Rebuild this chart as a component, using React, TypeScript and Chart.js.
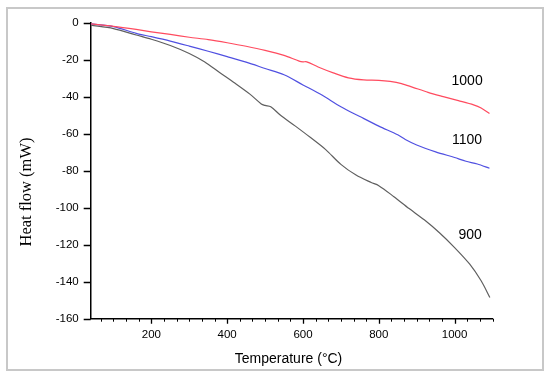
import React, { useEffect, useRef } from "react";
import { Chart, registerables } from "chart.js";

Chart.register(...registerables);

const temps1000 = [40, 100, 160, 200, 250, 300, 350, 400, 450, 500, 550, 590, 600, 610, 640, 680, 720, 760, 800, 830, 860, 890, 930, 970, 1010, 1050, 1070, 1092];
const flow1000 = [-0.5, -1.8, -3.5, -4.8, -6.2, -7.7, -9.0, -10.7, -12.6, -14.8, -17.5, -20.6, -21.0, -21.0, -23.8, -27.0, -29.7, -30.8, -31.0, -31.6, -32.8, -34.8, -37.5, -39.8, -42.0, -44.3, -46.0, -49.0];

const temps1100 = [40, 100, 160, 200, 250, 300, 350, 400, 450, 500, 550, 600, 650, 700, 750, 800, 850, 870, 900, 950, 1000, 1030, 1060, 1092];
const flow1100 = [-0.5, -2.0, -5.6, -7.4, -9.8, -12.5, -15.3, -18.2, -21.2, -24.6, -28.0, -33.5, -39.0, -45.3, -50.6, -55.8, -60.5, -63.0, -66.0, -69.7, -72.8, -74.8, -76.3, -78.6];

const temps900 = [40, 100, 160, 200, 250, 300, 340, 380, 420, 460, 490, 500, 515, 540, 580, 620, 660, 700, 740, 780, 800, 840, 880, 920, 960, 1000, 1040, 1070, 1093];
const flow900 = [-1.2, -3.0, -6.5, -8.8, -12.2, -16.5, -21.0, -26.8, -32.5, -38.5, -43.8, -44.6, -45.3, -49.8, -55.8, -62.0, -68.5, -76.5, -82.3, -86.3, -88.0, -94.0, -100.4, -106.5, -113.5, -121.5, -130.5, -139.5, -148.5];

const xMajorTicks = [200, 400, 600, 800, 1000];
const yMajorTicks = [0, -20, -40, -60, -80, -100, -120, -140, -160];

const seriesLabels = ["1000", "1100", "900"];
const labelPositions = [
  { x: 1033, y: -31.4 },
  { x: 1033, y: -63.3 },
  { x: 1041, y: -114.7 },
];

const xTitle = "Temperature (°C)";
const yTitle = "Heat flow (mW)";

const toPoints = (xs: number[], ys: number[]) => xs.map((x, i) => ({ x, y: ys[i] }));

export default function App() {
  const canvasRef = useRef<HTMLCanvasElement | null>(null);

  useEffect(() => {
    const canvas = canvasRef.current;
    if (!canvas) return;

    const decorations = {
      id: "decorations",
      afterDraw(chart: any) {
        const ctx = chart.ctx;
        const xs = chart.scales.x;
        const ys = chart.scales.y;
        const ca = chart.chartArea;
        ctx.save();
        ctx.strokeStyle = "#000";
        ctx.lineWidth = 1.3;
        ctx.beginPath();
        for (const v of yMajorTicks) {
          const py = Math.round(ys.getPixelForValue(v)) + 0.5;
          ctx.moveTo(ca.left - 7, py);
          ctx.lineTo(ca.left, py);
        }
        for (const v of xMajorTicks) {
          const px = Math.round(xs.getPixelForValue(v)) + 0.5;
          ctx.moveTo(px, ca.bottom);
          ctx.lineTo(px, ca.bottom + 5);
        }
        ctx.stroke();
        ctx.lineWidth = 1;
        ctx.beginPath();
        for (let i = 2; i <= 33; i++) {
          const v = (i * 100) / 3;
          if (i % 6 === 0) continue;
          const px = Math.round(xs.getPixelForValue(v)) + 0.5;
          ctx.moveTo(px, ca.bottom);
          ctx.lineTo(px, ca.bottom + 3);
        }
        ctx.stroke();

        ctx.fillStyle = "#000";
        ctx.font = "14px 'Liberation Sans', Arial, sans-serif";
        ctx.textAlign = "center";
        ctx.textBaseline = "middle";
        labelPositions.forEach((p, i) => {
          ctx.fillText(seriesLabels[i], xs.getPixelForValue(p.x), ys.getPixelForValue(p.y));
        });

        ctx.font = "14px 'Liberation Sans', Arial, sans-serif";
        ctx.textBaseline = "alphabetic";
        ctx.fillText(xTitle, 288.5, 363);

        ctx.translate(27, 192);
        ctx.rotate(-Math.PI / 2);
        ctx.font = "16.5px 'Liberation Serif', 'Times New Roman', serif";
        ctx.textBaseline = "middle";
        ctx.fillText(yTitle, 0, 0);
        ctx.restore();
      },
    };

    const tickFont = { family: "'Liberation Sans', Arial, sans-serif", size: 11.5 };

    const chart = new Chart(canvas, {
      type: "line",
      data: {
        datasets: [
          {
            label: "1000",
            data: toPoints(temps1000, flow1000),
            borderColor: "rgb(255,75,95)",
            borderWidth: 1.2,
            pointRadius: 0,
            tension: 0.3,
          },
          {
            label: "1100",
            data: toPoints(temps1100, flow1100),
            borderColor: "rgb(80,80,225)",
            borderWidth: 1.2,
            pointRadius: 0,
            tension: 0.3,
          },
          {
            label: "900",
            data: toPoints(temps900, flow900),
            borderColor: "rgb(95,95,95)",
            borderWidth: 1.2,
            pointRadius: 0,
            tension: 0.3,
          },
        ],
      },
      options: {
        animation: false,
        responsive: false,
        maintainAspectRatio: false,
        layout: { padding: { left: 0, top: 23, right: 57.5, bottom: 0 } },
        plugins: {
          legend: { display: false },
          tooltip: { enabled: false },
        },
        scales: {
          x: {
            type: "linear",
            min: 40,
            max: 1100,
            grid: { display: false, drawTicks: false },
            border: { display: true, color: "#000", width: 1.5 },
            afterBuildTicks: (scale: any) => {
              scale.ticks = xMajorTicks.map((v) => ({ value: v }));
            },
            afterFit: (scale: any) => {
              scale.height = 58.3;
            },
            ticks: {
              padding: 9,
              color: "#000",
              font: tickFont,
              maxRotation: 0,
              autoSkip: false,
              callback: (v: any) => String(v),
            },
          },
          y: {
            type: "linear",
            min: -160,
            max: 0,
            grid: { display: false, drawTicks: false },
            border: { display: true, color: "#000", width: 1.5 },
            afterBuildTicks: (scale: any) => {
              scale.ticks = yMajorTicks.map((v) => ({ value: v }));
            },
            afterFit: (scale: any) => {
              scale.width = 90.7;
            },
            ticks: {
              padding: 12,
              color: "#000",
              font: tickFont,
              autoSkip: false,
              callback: (v: any) => String(v),
            },
          },
        },
      },
      plugins: [decorations],
    });

    return () => chart.destroy();
  }, []);

  return (
    <div style={{ position: "fixed", left: 0, top: 0, width: 550, height: 377, background: "#fff" }}>
      <div
        style={{
          position: "absolute",
          left: 6,
          top: 7,
          width: 538,
          height: 364,
          border: "2px solid #c8c8c8",
          boxSizing: "border-box",
        }}
      />
      <canvas ref={canvasRef} width={550} height={377} style={{ position: "absolute", left: 0, top: 0 }} />
    </div>
  );
}
